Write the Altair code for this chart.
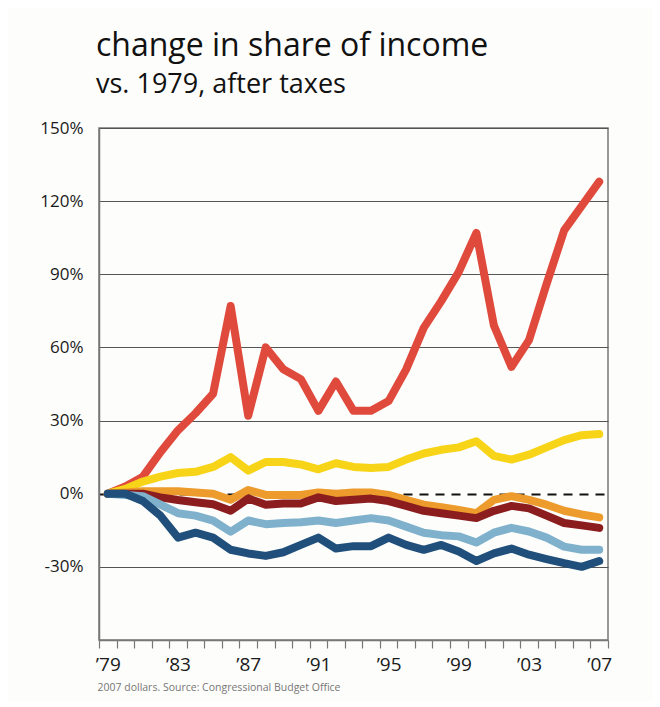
import altair as alt
import pandas as pd

years = list(range(1979, 2008))

top1 = [0, 3, 7, 17, 26, 33, 41, 77, 32, 60, 51, 47, 34, 46, 34, 34, 38, 51, 68, 79,
        91, 107, 69, 52, 63, 86, 108, 118, 128]
p81_99 = [0, 2, 5, 7, 8.5, 9, 11, 15, 9.5, 13, 13, 12, 10, 12.5, 11, 10.5, 11, 14, 16.5, 18,
          19, 21.5, 15.5, 14, 16, 19, 22, 24, 24.5]
fourth = [0, 0.5, 1, 1, 1, 0.5, 0, -2.5, 1.5, -0.5, -0.5, -0.5, 0.5, 0, 0.5, 0.5, -0.5, -2.5, -4.5, -5.5,
          -6.7, -8, -2.5, -1, -2.5, -4.5, -7, -8.5, -9.7]
middle = [0, 0, 0, -1.5, -2.6, -3.5, -4.3, -7, -2, -4.5, -4, -4, -1.5, -3, -2.5, -2, -3, -5, -7, -8,
          -9, -10, -7, -5, -6, -9, -12, -13, -14]
second = [0, -0.5, -1, -4.5, -8, -9, -11, -15.6, -11, -12.5, -12, -11.7, -11, -12, -11, -10, -11, -13.5, -16, -17,
          -17.5, -20, -16, -14, -15.5, -18, -21.7, -23, -23]
lowest = [0, 0, -3, -9, -18, -16, -18, -23, -24.5, -25.5, -24, -21, -18, -22.5, -21.5, -21.5, -18, -21, -23, -21,
          -23.7, -27.6, -24.5, -22.5, -25, -26.8, -28.5, -30, -27.6]

series_names = ["Top 1%", "81st-99th percentile", "Fourth quintile", "Middle quintile",
                "Second quintile", "Lowest quintile"]
series_values = [top1, p81_99, fourth, middle, second, lowest]
series_colors = ["#e04a3c", "#f7d417", "#ec9b2c", "#8c1d1f", "#7fb1cc", "#1f4f7a"]

y_ticks = [-30, 0, 30, 60, 90, 120, 150]
x_tick_positions = [y - 0.5 for y in range(1979, 2009)]

FONT = "Open Sans"
W, H = 509, 512
px_per_year = W / 29.0

x_enc = alt.X(
    "year:Q",
    scale=alt.Scale(domain=[1978.5, 2007.5], nice=False, zero=False),
    axis=alt.Axis(
        values=x_tick_positions,
        labelExpr="((datum.value + 0.5 - 1979) % 4 == 0 && datum.value < 2007) ? '\u2019' + substring(toString(datum.value + 0.5), 2, 4) : ''",
        labelOffset=px_per_year / 2,
        labelOverlap=False,
        labelFlush=False,
        labelFont=FONT,
        labelFontSize=19,
        labelColor="#1a1a1a",
        labelPadding=7,
        tickSize=8,
        tickColor="#777777",
        tickWidth=1.2,
        domainColor="#777777",
        domainWidth=1.5,
        grid=False,
        title="2007 dollars. Source: Congressional Budget Office",
        titleFont=FONT,
        titleFontSize=10.5,
        titleFontWeight="normal",
        titleColor="#777777",
        titleAlign="left",
        titleBaseline="alphabetic",
        titleX=-2,
        titleY=50,
    ),
)

y_enc = alt.Y(
    "value:Q",
    scale=alt.Scale(domain=[-60, 150], nice=False, zero=False),
    axis=alt.Axis(
        values=y_ticks,
        labelExpr="datum.value + '%'",
        labelFont=FONT,
        labelFontSize=17,
        labelColor="#1a1a1a",
        labelPadding=16,
        tickSize=0,
        domainColor="#777777",
        domainWidth=1.5,
        grid=True,
        gridColor={"condition": {"test": "datum.value === 0", "value": "#111111"}, "value": "#555555"},
        gridDash={"condition": {"test": "datum.value === 0", "value": [9, 7]}, "value": []},
        gridWidth={"condition": {"test": "datum.value === 0", "value": 2}, "value": 1.2},
        title=None,
    ),
)

layers = []
for name, vals, col in zip(series_names, series_values, series_colors):
    df = pd.DataFrame({"year": years, "value": vals, "group": name})
    layers.append(
        alt.Chart(df).mark_line(
            color=col, strokeWidth=8, strokeCap="round", strokeJoin="round"
        ).encode(x=x_enc, y=y_enc)
    )

chart = alt.layer(*layers).properties(
    width=W,
    height=H,
    padding={"left": 91, "top": 120, "right": 44, "bottom": 62},
    autosize=alt.AutoSizeParams(type="none"),
    background="#fdfdfb",
    title=alt.TitleParams(
        text="change in share of income",
        subtitle="vs. 1979, after taxes",
        anchor="start",
        frame="group",
        font=FONT,
        subtitleFont=FONT,
        fontSize=32,
        subtitleFontSize=27,
        fontWeight="normal",
        color="#111111",
        subtitleColor="#111111",
        subtitlePadding=9,
        offset=20,
        dx=-3,
    ),
).configure_view(
    stroke="#777777", strokeWidth=1.5
)

chart.save("out.html", embed_options={"renderer": "svg", "actions": False})
